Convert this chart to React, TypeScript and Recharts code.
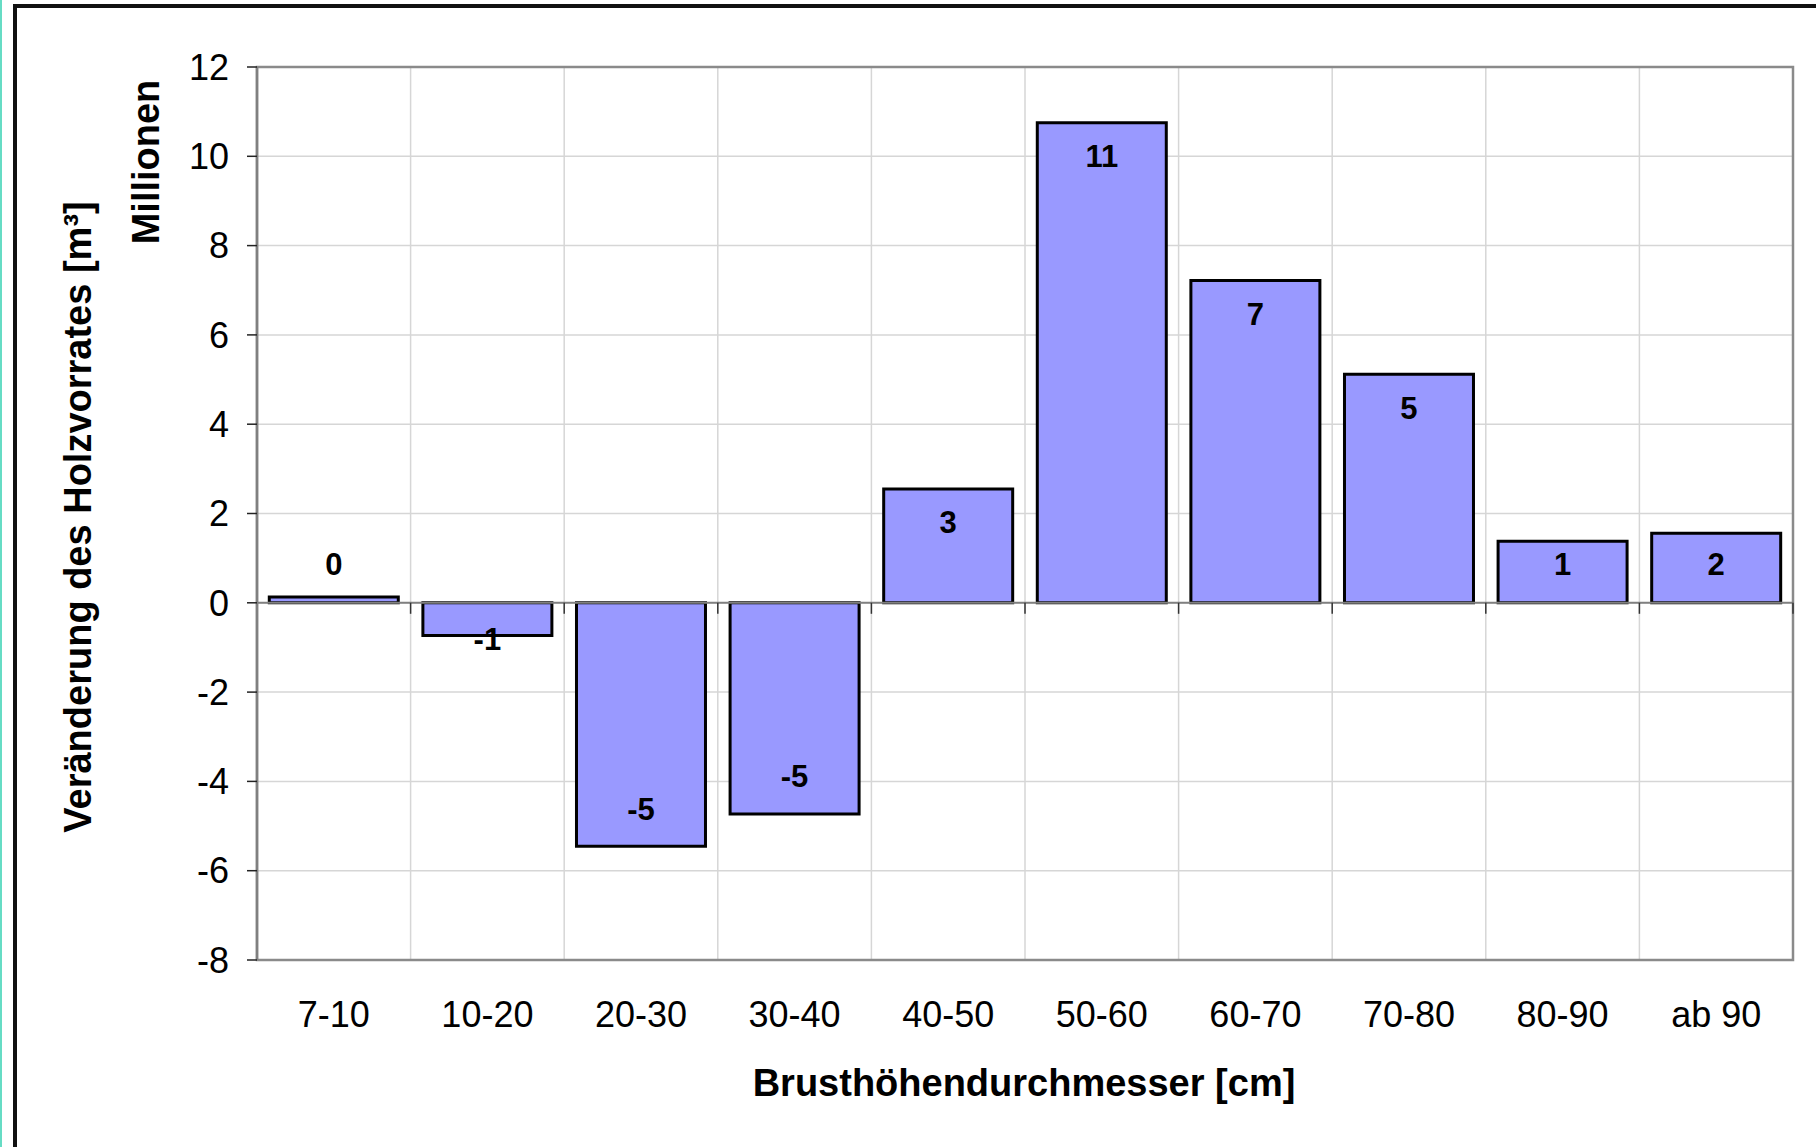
import {
  Bar,
  BarChart,
  CartesianGrid,
  LabelList,
  ReferenceArea,
  ReferenceLine,
  XAxis,
  YAxis,
} from 'recharts'

const categories = ['7-10', '10-20', '20-30', '30-40', '40-50', '50-60', '60-70', '70-80', '80-90', 'ab 90']
const changeMillions = [0.13, -0.73, -5.45, -4.73, 2.55, 10.75, 7.22, 5.12, 1.38, 1.56]
const yTicks = [-8, -6, -4, -2, 0, 2, 4, 6, 8, 10, 12]

const xTitle = 'Brusthöhendurchmesser [cm]'
const yTitle = 'Veränderung des Holzvorrates [m³]'
const yUnit = 'Millionen'

const data = categories.map((name, i) => ({ name, value: changeMillions[i] }))

const FONT = '"Liberation Sans", Arial, Helvetica, sans-serif'
const W = 1816
const H = 1147

// label sits just inside the bar end, but never closer to the base than a fixed gap
function ValueLabel(props: any) {
  const { x, y, width, height, value } = props
  const top = Math.min(y, y + height)
  const bottom = Math.max(y, y + height)
  const cx = x + width / 2
  const cy = value >= 0 ? Math.min(top + 34, bottom - 38) : Math.max(bottom - 37, top + 37)
  return (
    <text
      x={cx}
      y={cy}
      textAnchor="middle"
      dominantBaseline="central"
      fontFamily={FONT}
      fontSize={31}
      fontWeight="bold"
      fill="#000"
    >
      {Math.round(value)}
    </text>
  )
}

// zero line plus the small category ticks hanging off it
function ZeroAxis(props: any) {
  const { x1, y1, x2 } = props
  const step = (x2 - x1) / categories.length
  return (
    <g>
      <line x1={x1} y1={y1} x2={x2} y2={y1} stroke="#808080" strokeWidth={2} />
      {categories.map((_, i) => (
        <line key={i} x1={x1 + (i + 1) * step} y1={y1} x2={x1 + (i + 1) * step} y2={y1 + 11} stroke="#333" strokeWidth={1.5} />
      ))}
      <line x1={x1} y1={y1} x2={x1} y2={y1 + 11} stroke="#333" strokeWidth={1.5} />
    </g>
  )
}

export default function App() {
  return (
    <div
      style={{
        position: 'absolute',
        left: 0,
        top: 0,
        width: W,
        height: H,
        background: '#fff',
        overflow: 'hidden',
      }}
    >
      <div style={{ position: 'absolute', left: 0, top: 0, width: 2, height: H, background: '#66dcc4' }} />
      <div
        style={{
          position: 'absolute',
          left: 13,
          top: 4,
          width: W,
          height: H,
          borderTop: '4px solid #111',
          borderLeft: '4px solid #111',
        }}
      />
      <div style={{ position: 'absolute', left: 0, top: 0 }}>
        <BarChart
          width={W}
          height={H}
          data={data}
          margin={{ top: 67, right: 23, bottom: 107, left: 0 }}
          barCategoryGap="8%"
        >
          <CartesianGrid
            stroke="#d6d6d6"
            strokeWidth={1.5}
            verticalCoordinatesGenerator={({ offset }: any) =>
              categories.map((_, i) => offset.left + (i * offset.width) / categories.length)
            }
          />
          <ReferenceArea y1={-8} y2={12} fill="none" stroke="#8a8a8a" strokeWidth={2.5} ifOverflow="visible" />
          <XAxis
            dataKey="name"
            height={80}
            axisLine={false}
            tickLine={false}
            tickSize={0}
            tickMargin={41}
            interval={0}
            tick={{ fontFamily: FONT, fontSize: 36, fill: '#000' }}
          />
          <YAxis
            width={257}
            domain={[-8, 12]}
            ticks={yTicks}
            interval={0}
            axisLine={{ stroke: '#808080', strokeWidth: 2.5 }}
            tickLine={{ stroke: '#222', strokeWidth: 1.5 }}
            tickSize={10}
            tickMargin={18}
            tick={{ fontFamily: FONT, fontSize: 36, fill: '#000' }}
          />
          <ReferenceLine y={0} shape={<ZeroAxis />} ifOverflow="visible" />
          <Bar dataKey="value" fill="#9999ff" stroke="#000" strokeWidth={3} isAnimationActive={false}>
            <LabelList dataKey="value" content={<ValueLabel />} />
          </Bar>
        </BarChart>
      </div>
      <svg width={W} height={H} style={{ position: 'absolute', left: 0, top: 0, pointerEvents: 'none' }}>
        <text
          x={1024}
          y={1083}
          textAnchor="middle"
          dominantBaseline="central"
          fontFamily={FONT}
          fontSize={38}
          fontWeight="bold"
        >
          {xTitle}
        </text>
        <text
          x={78}
          y={517}
          transform="rotate(-90 78 517)"
          textAnchor="middle"
          dominantBaseline="central"
          fontFamily={FONT}
          fontSize={38}
          fontWeight="bold"
        >
          {yTitle}
        </text>
        <text
          x={146}
          y={162}
          transform="rotate(-90 146 162)"
          textAnchor="middle"
          dominantBaseline="central"
          fontFamily={FONT}
          fontSize={38}
          fontWeight="bold"
        >
          {yUnit}
        </text>
      </svg>
    </div>
  )
}
